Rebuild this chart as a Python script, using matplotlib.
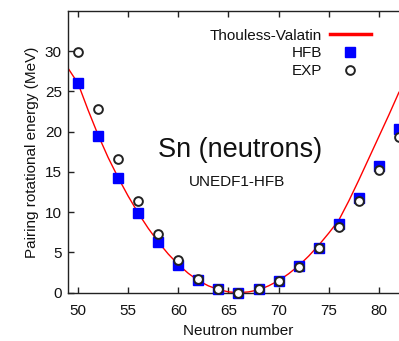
import matplotlib
matplotlib.use("Agg")
import matplotlib.pyplot as plt
from matplotlib.lines import Line2D

plt.rcParams['font.family'] = ['Liberation Sans', 'DejaVu Sans']

# Data
neutrons = [50, 52, 54, 56, 58, 60, 62, 64, 66, 68, 70, 72, 74, 76, 78, 80, 82]
hfb = [26.0, 19.5, 14.3, 9.9, 6.3, 3.45, 1.55, 0.42, 0.0, 0.42, 1.5, 3.3, 5.6, 8.5, 11.8, 15.8, 20.4]
exp = [29.9, 22.8, 16.6, 11.4, 7.3, 4.05, 1.75, 0.45, 0.0, 0.42, 1.45, 3.2, 5.5, 8.2, 11.45, 15.3, 19.4]

tv_n = list(range(49, 83))
tv_e = [27.9, 26.0, 22.7, 19.6, 16.8, 14.3, 12.0, 9.9, 8.0, 6.3, 4.8, 3.5, 2.4, 1.5,
        0.85, 0.4, 0.1, 0.0, 0.1, 0.35, 0.85, 1.5, 2.35, 3.35, 4.55, 5.9, 7.4, 9.0,
        11.4, 14.0, 16.7, 19.4, 22.1, 24.9]

xticks = [50, 55, 60, 65, 70, 75, 80]
yticks = [0, 5, 10, 15, 20, 25, 30]

W, H = 399, 341
fig = plt.figure(figsize=(W / 100, H / 100), dpi=100)
ax = fig.add_axes([68 / W, 48.3 / H, 351 / W, 281.7 / H])

ax.plot(tv_n, tv_e, color='#ff0000', lw=1.0, zorder=2)
ax.plot(neutrons, hfb, ls='none', marker='s', ms=6.8, mfc='#0000ff', mec='#0000ff', zorder=3, clip_on=False)
ax.plot(neutrons, exp, ls='none', marker='o', ms=6.3, mfc='white', mec='#222222', mew=1.4, zorder=4, clip_on=False)

ax.set_xlim(49, 84)
ax.set_ylim(0, 35)
ax.set_xticks(xticks)
ax.set_yticks(yticks)
ax.tick_params(direction='in', length=4, width=1, colors='#222222', labelcolor='#111111',
               labelsize=11, top=True, right=False)
ax.tick_params(axis='x', pad=8)
ax.tick_params(axis='y', pad=4.5)
for s in ax.spines.values():
    s.set_color('#222222')
    s.set_linewidth(1.0)

ax.set_xlabel('Neutron number', fontsize=11, color='#111111')
ax.xaxis.set_label_coords(0.486, -0.111)
ax.set_ylabel('Pairing rotational energy (MeV)', fontsize=11, color='#111111')
ax.yaxis.set_label_coords(-0.082, 0.5)

ax.text(0.49, 0.5066, 'Sn (neutrons)', transform=ax.transAxes, ha='center', va='center',
        fontsize=19.5, color='#111111')
ax.text(0.4806, 0.394, 'UNEDF1-HFB', transform=ax.transAxes, ha='center', va='center',
        fontsize=11, color='#111111')

handles = [Line2D([], [], color='#ff0000', lw=2.5),
           Line2D([], [], ls='none', marker='s', ms=6.8, mfc='#0000ff', mec='#0000ff'),
           Line2D([], [], ls='none', marker='o', ms=6.3, mfc='white', mec='#222222', mew=1.4)]
labels = ['Thouless-Valatin', 'HFB', 'EXP']
leg = ax.legend(handles, labels, loc='upper right', bbox_to_anchor=(370.7 / W, 1 - 28.5 / H),
                bbox_transform=fig.transFigure, frameon=False, markerfirst=False,
                fontsize=11, handlelength=2.66, handletextpad=0.54, labelspacing=0.26,
                borderpad=0, borderaxespad=0)
for t in leg.get_texts():
    t.set_color('#111111')

fig.savefig('out.png', dpi=100, facecolor='white')
